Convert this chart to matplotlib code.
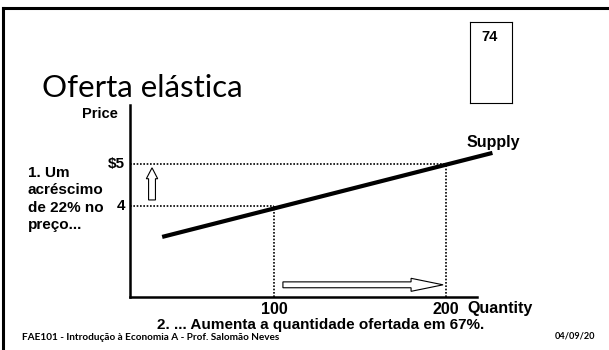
import matplotlib.pyplot as plt
from matplotlib.patches import FancyArrow
from matplotlib.lines import Line2D

# data
supply_q = [35, 227]
supply_p = [3.26, 5.26]
quantities = [100, 200]
prices = [4, 5]
price_labels = ['4', '$5']
qty_labels = ['100', '200']

title = 'Oferta elástica'
note_price = '1. Um\nacréscimo\nde 22% no\npreço...'
note_qty = '2. ... Aumenta a quantidade ofertada em 67%.'
footer = 'FAE101 - Introdução à Economia A - Prof. Salomão Neves'
date = '04/09/20'
slide_no = '74'

bold = dict(family=['Liberation Sans Narrow', 'Liberation Sans', 'DejaVu Sans'], weight='bold')
gothic = ['Lato', 'DejaVu Sans']

W, H = 609, 350
fig = plt.figure(figsize=(W / 100, H / 100), dpi=100)


def fx(px):
    return px / W


def fy(py):
    return 1 - py / H


# slide frame
fig.add_artist(Line2D([fx(3), 1], [fy(8), fy(8)], color='black', lw=2.2))
fig.add_artist(Line2D([fx(3), fx(3)], [0, fy(8)], color='black', lw=2.2))

# page number box
box = fig.add_axes([fx(470), fy(103), 42 / W, 81 / H])
box.set_xticks([])
box.set_yticks([])
for s in box.spines.values():
    s.set_linewidth(0.8)
fig.text(fx(490), fy(37), slide_no, ha='center', va='center', fontsize=10.5, **bold)

fig.text(fx(42), fy(97), title, fontsize=22.5, family=gothic,
         ha='left', va='baseline')

ax = fig.add_axes([fx(130), fy(297), 370 / W, 192 / H])
ax.set_xlim(16.3, 231.4)
ax.set_ylim(1.83, 6.40)
for s in ['top', 'right']:
    ax.spines[s].set_visible(False)
ax.spines['left'].set_linewidth(1.8)
ax.spines['bottom'].set_linewidth(1.8)
ax.spines['bottom'].set_bounds(16.3, 218)
ax.set_xticks([])
ax.set_yticks([])

# supply curve
ax.plot(supply_q, supply_p, color='black', lw=3, solid_capstyle='butt', clip_on=False)

# guide lines
for q, p in zip(quantities, prices):
    ax.plot([16.3, q], [p, p], color='black', lw=1.2, ls=(0, (1, 1)))
    ax.plot([q, q], [1.83, p], color='black', lw=1.2, ls=(0, (1, 1)))

# hollow arrows
ax.add_patch(FancyArrow(29.1, 4.14, 0, 0.765, width=4.0, head_width=6.6, head_length=0.26,
                        length_includes_head=True, fc='white', ec='black', lw=0.8))
ax.add_patch(FancyArrow(105.2, 2.12, 93.1, 0, width=0.14, head_width=0.31, head_length=18.6,
                        length_includes_head=True, fc='white', ec='black', lw=0.8))

# tick labels
for p, lab in zip(prices, price_labels):
    ax.annotate(lab, xy=(0, p), xycoords=('axes fraction', 'data'), xytext=(-5, 0),
                textcoords='offset pixels', ha='right', va='center', fontsize=11, **bold)
for q, lab in zip(quantities, qty_labels):
    ax.annotate(lab, xy=(q, 0), xycoords=('data', 'axes fraction'), xytext=(0, -13),
                textcoords='offset pixels', ha='center', va='center', fontsize=11.5, **bold)

fig.text(fx(100), fy(114), 'Price', ha='center', va='center', fontsize=10.5, **bold)
fig.text(fx(467), fy(143), 'Supply', ha='left', va='center', fontsize=11.5, **bold)
fig.text(fx(467), fy(308), 'Quantity', ha='left', va='center', fontsize=11.5, **bold)
fig.text(fx(28), fy(199), note_price, ha='left', va='center', fontsize=11,
         linespacing=1.3, **bold)
fig.text(fx(321), fy(325), note_qty, ha='center', va='center', fontsize=11, **bold)

fig.text(fx(22), fy(337), footer, ha='left', va='center', fontsize=7.2,
         family=gothic, weight='bold')
fig.text(fx(595), fy(336), date, ha='right', va='center', fontsize=6.6,
         family=gothic, weight='bold')

fig.savefig('out.png', dpi=100)
